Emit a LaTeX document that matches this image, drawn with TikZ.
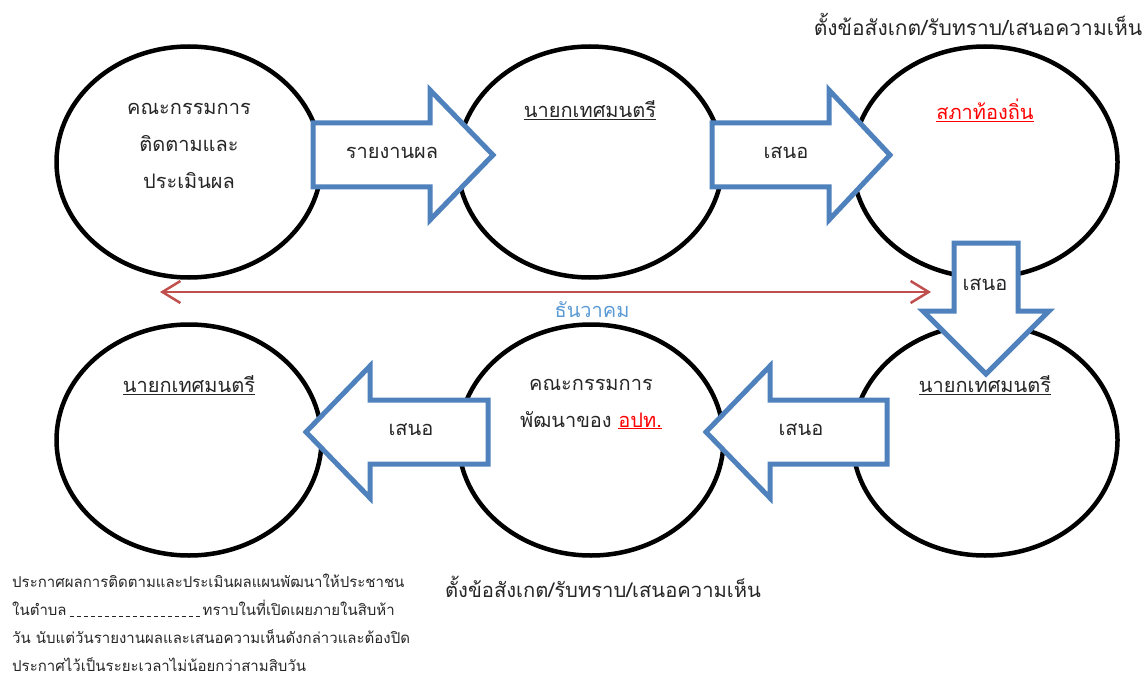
\documentclass[tikz,border=0pt]{standalone}
\usepackage{fontspec}
\setmainfont[Script=Thai]{Loma}
\usetikzlibrary{shapes.geometric,arrows.meta}

\definecolor{arrowblue}{RGB}{79,129,189}
\definecolor{monthblue}{RGB}{91,155,213}
\definecolor{linkred}{RGB}{192,80,77}
\definecolor{textred}{RGB}{255,0,0}

\newcommand{\blankline}{\leaders\hbox to 7pt{\hss\rule[-1pt]{4pt}{0.8pt}\hss}\hskip 136pt}

\tikzset{
  oval/.style={ellipse,draw=black,line width=4.5pt,minimum width=265pt,minimum height=231pt},
  blockarrow/.style={draw=arrowblue,fill=white,line width=5pt,line join=miter},
  lbl/.style={font=\fontsize{20}{37}\selectfont,align=center,inner sep=0pt,text=black!85},
  remark/.style={font=\fontsize{21}{24}\selectfont,inner sep=0pt,text=black!85},
}

\begin{document}
\begin{tikzpicture}[x=1pt,y=-1pt]
\useasboundingbox (0,0) rectangle (1148,679);

% ovals
\node[oval] (e1) at (189,162) {};
\node[oval] (e2) at (590,162) {};
\node[oval] (e3) at (985,162) {};
\node[oval] (e4) at (189,440) {};
\node[oval] (e5) at (591,440) {};
\node[oval] (e6) at (985,440) {};

% block arrows
\draw[blockarrow] (313,123) -- (430,123) -- (430,90) -- (493,155) -- (430,220) -- (430,187) -- (313,187) -- cycle;
\draw[blockarrow] (712,123) -- (829,123) -- (829,90) -- (890,155) -- (829,220) -- (829,187) -- (712,187) -- cycle;
\draw[blockarrow] (954,243) -- (1018,243) -- (1018,311) -- (1049,311) -- (986,374) -- (923,311) -- (954,311) -- cycle;
\draw[blockarrow] (488,400) -- (370,400) -- (370,366) -- (306,432) -- (370,498) -- (370,464) -- (488,464) -- cycle;
\draw[blockarrow] (887,400) -- (770,400) -- (770,366) -- (706,432) -- (770,498) -- (770,464) -- (887,464) -- cycle;

\node[lbl] (a1) at (392,153) {รายงานผล};
\node[lbl] (a2) at (786,153) {เสนอ};
\node[lbl] (a3) at (985,285) {เสนอ};
\node[lbl] (a4) at (411,430) {เสนอ};
\node[lbl] (a5) at (801,430) {เสนอ};

% texts in ovals
\node[lbl] (t1) at (189,146) {คณะกรรมการ\\ติดตามและ\\ประเมินผล};
\node[lbl] (t2) at (590,110) {\underline{นายกเทศมนตรี}};
\node[lbl] (t3) at (985,110) {\textcolor{textred}{\underline{สภาท้องถิ่น}}};
\node[lbl] (t4) at (189,385) {\underline{นายกเทศมนตรี}};
\node[lbl] (t5) at (591,404) {คณะกรรมการ\\พัฒนาของ \textcolor{textred}{\underline{อปท.}}};
\node[lbl] (t6) at (985,385) {\underline{นายกเทศมนตรี}};

% time line
\coordinate (m1) at (160,292);
\coordinate (m2) at (931,292);
\draw[linkred,line width=2.5pt,{Straight Barb[length=18pt,width=22pt]}-{Straight Barb[length=18pt,width=22pt]}] (m1) -- (m2);
\node[lbl,text=monthblue] (month) at (592,310) {ธันวาคม};

% remarks
\node[remark] (r1) at (978,24) {ตั้งข้อสังเกต/รับทราบ/เสนอความเห็น};
\node[remark,font=\fontsize{20.2}{24}\selectfont] (r2) at (603,587) {ตั้งข้อสังเกต/รับทราบ/เสนอความเห็น};
\node[anchor=north west,align=left,inner sep=0pt,text=black!85,font=\fontsize{15}{28}\selectfont] (note) at (12,574)
  {ประกาศผลการติดตามและประเมินผลแผนพัฒนาให้ประชาชน\\
   ในตำบล\blankline ทราบในที่เปิดเผยภายในสิบห้า\\
   วัน นับแต่วันรายงานผลและเสนอความเห็นดังกล่าวและต้องปิด\\
   ประกาศไว้เป็นระยะเวลาไม่น้อยกว่าสามสิบวัน};
\end{tikzpicture}
\end{document}
